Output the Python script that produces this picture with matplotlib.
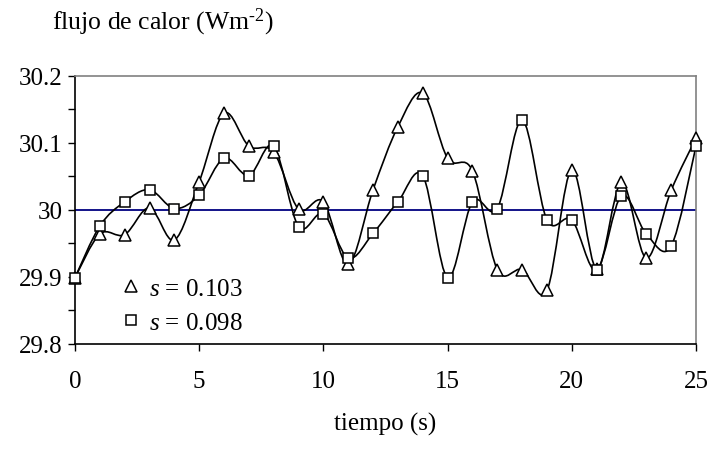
import numpy as np
import matplotlib
matplotlib.use("Agg")
import matplotlib.pyplot as plt
from matplotlib.lines import Line2D
from matplotlib.path import Path
from matplotlib.patches import PathPatch

plt.rcParams["font.family"] = ["Liberation Serif", "DejaVu Serif"]
plt.rcParams["mathtext.fontset"] = "custom"
plt.rcParams["mathtext.it"] = "Liberation Serif:italic"
plt.rcParams["mathtext.rm"] = "Liberation Serif"

tiempo = np.arange(0, 26)
flujo_s103 = [29.899, 29.964, 29.963, 30.003, 29.955, 30.042, 30.144, 30.095, 30.086, 30.001,
              30.012, 29.919, 30.030, 30.124, 30.174, 30.077, 30.058, 29.911, 29.911, 29.880,
              30.060, 29.912, 30.041, 29.928, 30.029, 30.107]
flujo_s098 = [29.899, 29.976, 30.012, 30.030, 30.002, 30.022, 30.077, 30.051, 30.095, 29.975,
              29.994, 29.928, 29.965, 30.012, 30.051, 29.899, 30.012, 30.002, 30.134, 29.985,
              29.985, 29.910, 30.021, 29.964, 29.946, 30.095]
referencia = 30.0
etiquetas = ["$s$ = 0.103", "$s$ = 0.098"]


def smooth_path(x, y):
    # Excel-style smoothed line: Catmull-Rom segments as cubic Bezier
    pts = np.column_stack([x, y]).astype(float)
    n = len(pts)
    verts = [pts[0]]
    codes = [Path.MOVETO]
    for i in range(n - 1):
        p0 = pts[i - 1] if i > 0 else pts[i]
        p1 = pts[i]
        p2 = pts[i + 1]
        p3 = pts[i + 2] if i + 2 < n else pts[i + 1]
        verts += [p1 + (p2 - p0) / 6.0, p2 - (p3 - p1) / 6.0, p2]
        codes += [Path.CURVE4] * 3
    return Path(verts, codes)


fig = plt.figure(figsize=(7.11, 4.52), dpi=100)
ax = fig.add_axes([75 / 711, 1 - 345 / 452, 621 / 711, 268.3 / 452])

ax.axhline(referencia, color="#000080", lw=1.3, zorder=1)

for serie in (flujo_s103, flujo_s098):
    ax.add_patch(PathPatch(smooth_path(tiempo, serie), facecolor="none",
                           edgecolor="black", lw=1.2, zorder=2))

ax.plot(tiempo, flujo_s103, ls="none", marker="^", ms=8, mfc="white", mec="black", mew=1.1,
        zorder=3, clip_on=False)
ax.plot(tiempo, flujo_s098, ls="none", marker="s", ms=7.5, mfc="white", mec="black", mew=1.1,
        zorder=4, clip_on=False)

ax.set_xlim(0, 25)
ax.set_ylim(29.8, 30.2)
ax.set_xticks([0, 5, 10, 15, 20, 25])
ax.set_yticks([29.8, 29.9, 30.0, 30.1, 30.2])
ax.set_yticklabels(["29.8", "29.9", "30", "30.1", "30.2"])
ax.set_yticks(np.arange(29.85, 30.2, 0.1), minor=True)
ax.tick_params(axis="both", which="both", direction="out", length=5, width=1, color="black",
               labelsize=18)
ax.tick_params(axis="x", pad=14)
ax.tick_params(axis="y", pad=4)

ax.spines["left"].set_color("black")
ax.spines["bottom"].set_color("black")
ax.spines["top"].set_color("#808080")
ax.spines["right"].set_color("#808080")
for sp in ax.spines.values():
    sp.set_linewidth(1.2)

fig.text(52 / 711, 1 - 22 / 452, "flujo de calor (Wm$^{\\text{-}2}$)", fontsize=18.5,
         ha="left", va="center")
fig.text(385 / 711, 1 - 424 / 452, "tiempo (s)", fontsize=18, ha="center", va="center")

handles = [
    Line2D([], [], ls="none", marker="^", ms=8, mfc="white", mec="black", mew=1.1),
    Line2D([], [], ls="none", marker="s", ms=7.5, mfc="white", mec="black", mew=1.1),
]
ax.legend(handles, etiquetas, loc="upper left", bbox_to_anchor=(108 / 711, 1 - 266 / 452),
          bbox_transform=fig.transFigure, frameon=False, fontsize=18, handlelength=0.8,
          handletextpad=0.35, labelspacing=0.45, borderpad=0)

fig.savefig("out.png", dpi=100)
